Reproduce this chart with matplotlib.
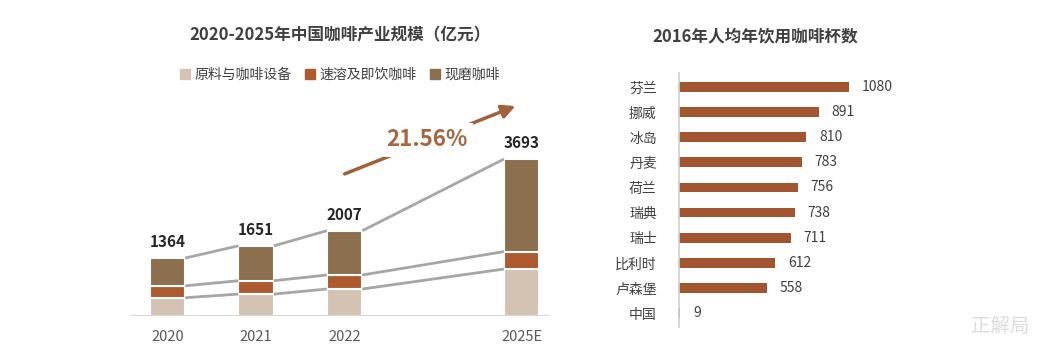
import matplotlib
matplotlib.use("Agg")
import matplotlib.pyplot as plt
import numpy as np
from matplotlib.patches import Patch

plt.rcParams["font.family"] = ["Noto Sans CJK SC", "DejaVu Sans"]

# left chart data (亿元)
years = ["2020", "2021", "2022", "2025E"]
year_pos = [0, 1, 2, 4]
raw_equip = [430, 515, 635, 1105]
instant = [280, 315, 330, 410]
fresh = [654, 821, 1042, 2178]
totals = [1364, 1651, 2007, 3693]
series_names = ["原料与咖啡设备", "速溶及即饮咖啡", "现磨咖啡"]
cagr_label = "21.56%"

# right chart data
countries = ["芬兰", "挪威", "冰岛", "丹麦", "荷兰", "瑞典", "瑞士", "比利时", "卢森堡", "中国"]
cups = [1080, 891, 810, 783, 756, 738, 711, 612, 558, 9]

C_LIGHT = "#d4c3b3"
C_MID = "#ad5a2f"
C_DARK = "#8c6f4e"
C_BAR = "#a3552f"
C_TEXT = "#404040"

W, H = 1039, 360
fig = plt.figure(figsize=(W / 100, H / 100), dpi=100)


def px_axes(x0, y0, x1, y1):
    return fig.add_axes([x0 / W, 1 - y1 / H, (x1 - x0) / W, (y1 - y0) / H])


# ---- left: stacked bars
ax = px_axes(130, 60, 550, 316)
bw = 0.4
x = np.array(year_pos, dtype=float)
ax.bar(x, raw_equip, bw, color=C_LIGHT, edgecolor="white", linewidth=1.5)
ax.bar(x, instant, bw, bottom=raw_equip, color=C_MID, edgecolor="white", linewidth=1.5)
bottom3 = np.array(raw_equip) + np.array(instant)
ax.bar(x, fresh, bw, bottom=bottom3, color=C_DARK, edgecolor="white", linewidth=1.5)

levels = [np.array(raw_equip), bottom3, bottom3 + np.array(fresh)]
for lv in levels:
    for i in range(len(x) - 1):
        ax.plot([x[i] + bw / 2, x[i + 1] - bw / 2], [lv[i], lv[i + 1]],
                color="#a6a6a6", lw=2, solid_capstyle="butt", zorder=1)

for xi, t in zip(x, totals):
    ax.text(xi, t + 180, str(t), ha="center", va="bottom", fontsize=11,
            fontweight="bold", color="#262626")

ax.axhline(0, color="#d9d9d9", lw=1.5)
ax.set_xlim(-0.424, 4.32)
ax.set_ylim(0, 6024)
ax.set_xticks(x)
ax.set_xticklabels(years, fontsize=10.5, color="#595959")
ax.tick_params(axis="x", length=0, pad=10)
ax.set_yticks([])
for s in ax.spines.values():
    s.set_visible(False)

ax.annotate("", xy=(0.924, 0.824), xytext=(0.505, 0.551), xycoords="axes fraction",
            arrowprops=dict(arrowstyle="-|>,head_length=0.8,head_width=0.4",
                            color="#a0613b", lw=2.5))
ax.text(0.707, 0.6875, cagr_label, transform=ax.transAxes, ha="center", va="center",
        fontsize=16, fontweight="bold", color="#a5673f",
        bbox=dict(facecolor="white", edgecolor="none", pad=4))

fig.text(340 / W, 1 - 35 / H, "2020-2025年中国咖啡产业规模（亿元）", ha="center",
         va="center", fontsize=12, fontweight="bold", color=C_TEXT)
handles = [Patch(color=C_LIGHT), Patch(color=C_MID), Patch(color=C_DARK)]
fig.legend(handles, series_names, loc="center", bbox_to_anchor=(340 / W, 1 - 75 / H),
           ncol=3, frameon=False, fontsize=10, labelcolor=C_TEXT,
           handlelength=0.7, handleheight=0.7, handletextpad=0.3, columnspacing=1.0)

# ---- right: horizontal bars
ax2 = px_axes(679, 73, 940, 327)
y = np.arange(len(countries))
ax2.barh(y, cups, 0.38, color=C_BAR)
for yi, v in zip(y, cups):
    ax2.text(v + 80, yi, str(v), va="center", ha="left", fontsize=10, color=C_TEXT)
ax2.set_ylim(len(countries) - 0.45, -0.55)
ax2.set_xlim(0, 1660)
ax2.set_yticks(y)
ax2.set_yticklabels(countries, fontsize=10, color=C_TEXT)
ax2.tick_params(axis="y", length=0, pad=16)
ax2.set_xticks([])
for k, s in ax2.spines.items():
    s.set_visible(k == "left")
ax2.spines["left"].set_color("#d0d0d0")
ax2.spines["left"].set_linewidth(1.2)
fig.text(755 / W, 1 - 36 / H, "2016年人均年饮用咖啡杯数", ha="center", va="center",
         fontsize=12, fontweight="bold", color=C_TEXT)

fig.text(1000 / W, 1 - 326 / H, "正解局", ha="center", va="center", fontsize=14,
         color="#dcdcdc", fontstyle="italic")

fig.savefig("out.png", dpi=100, facecolor="white")
